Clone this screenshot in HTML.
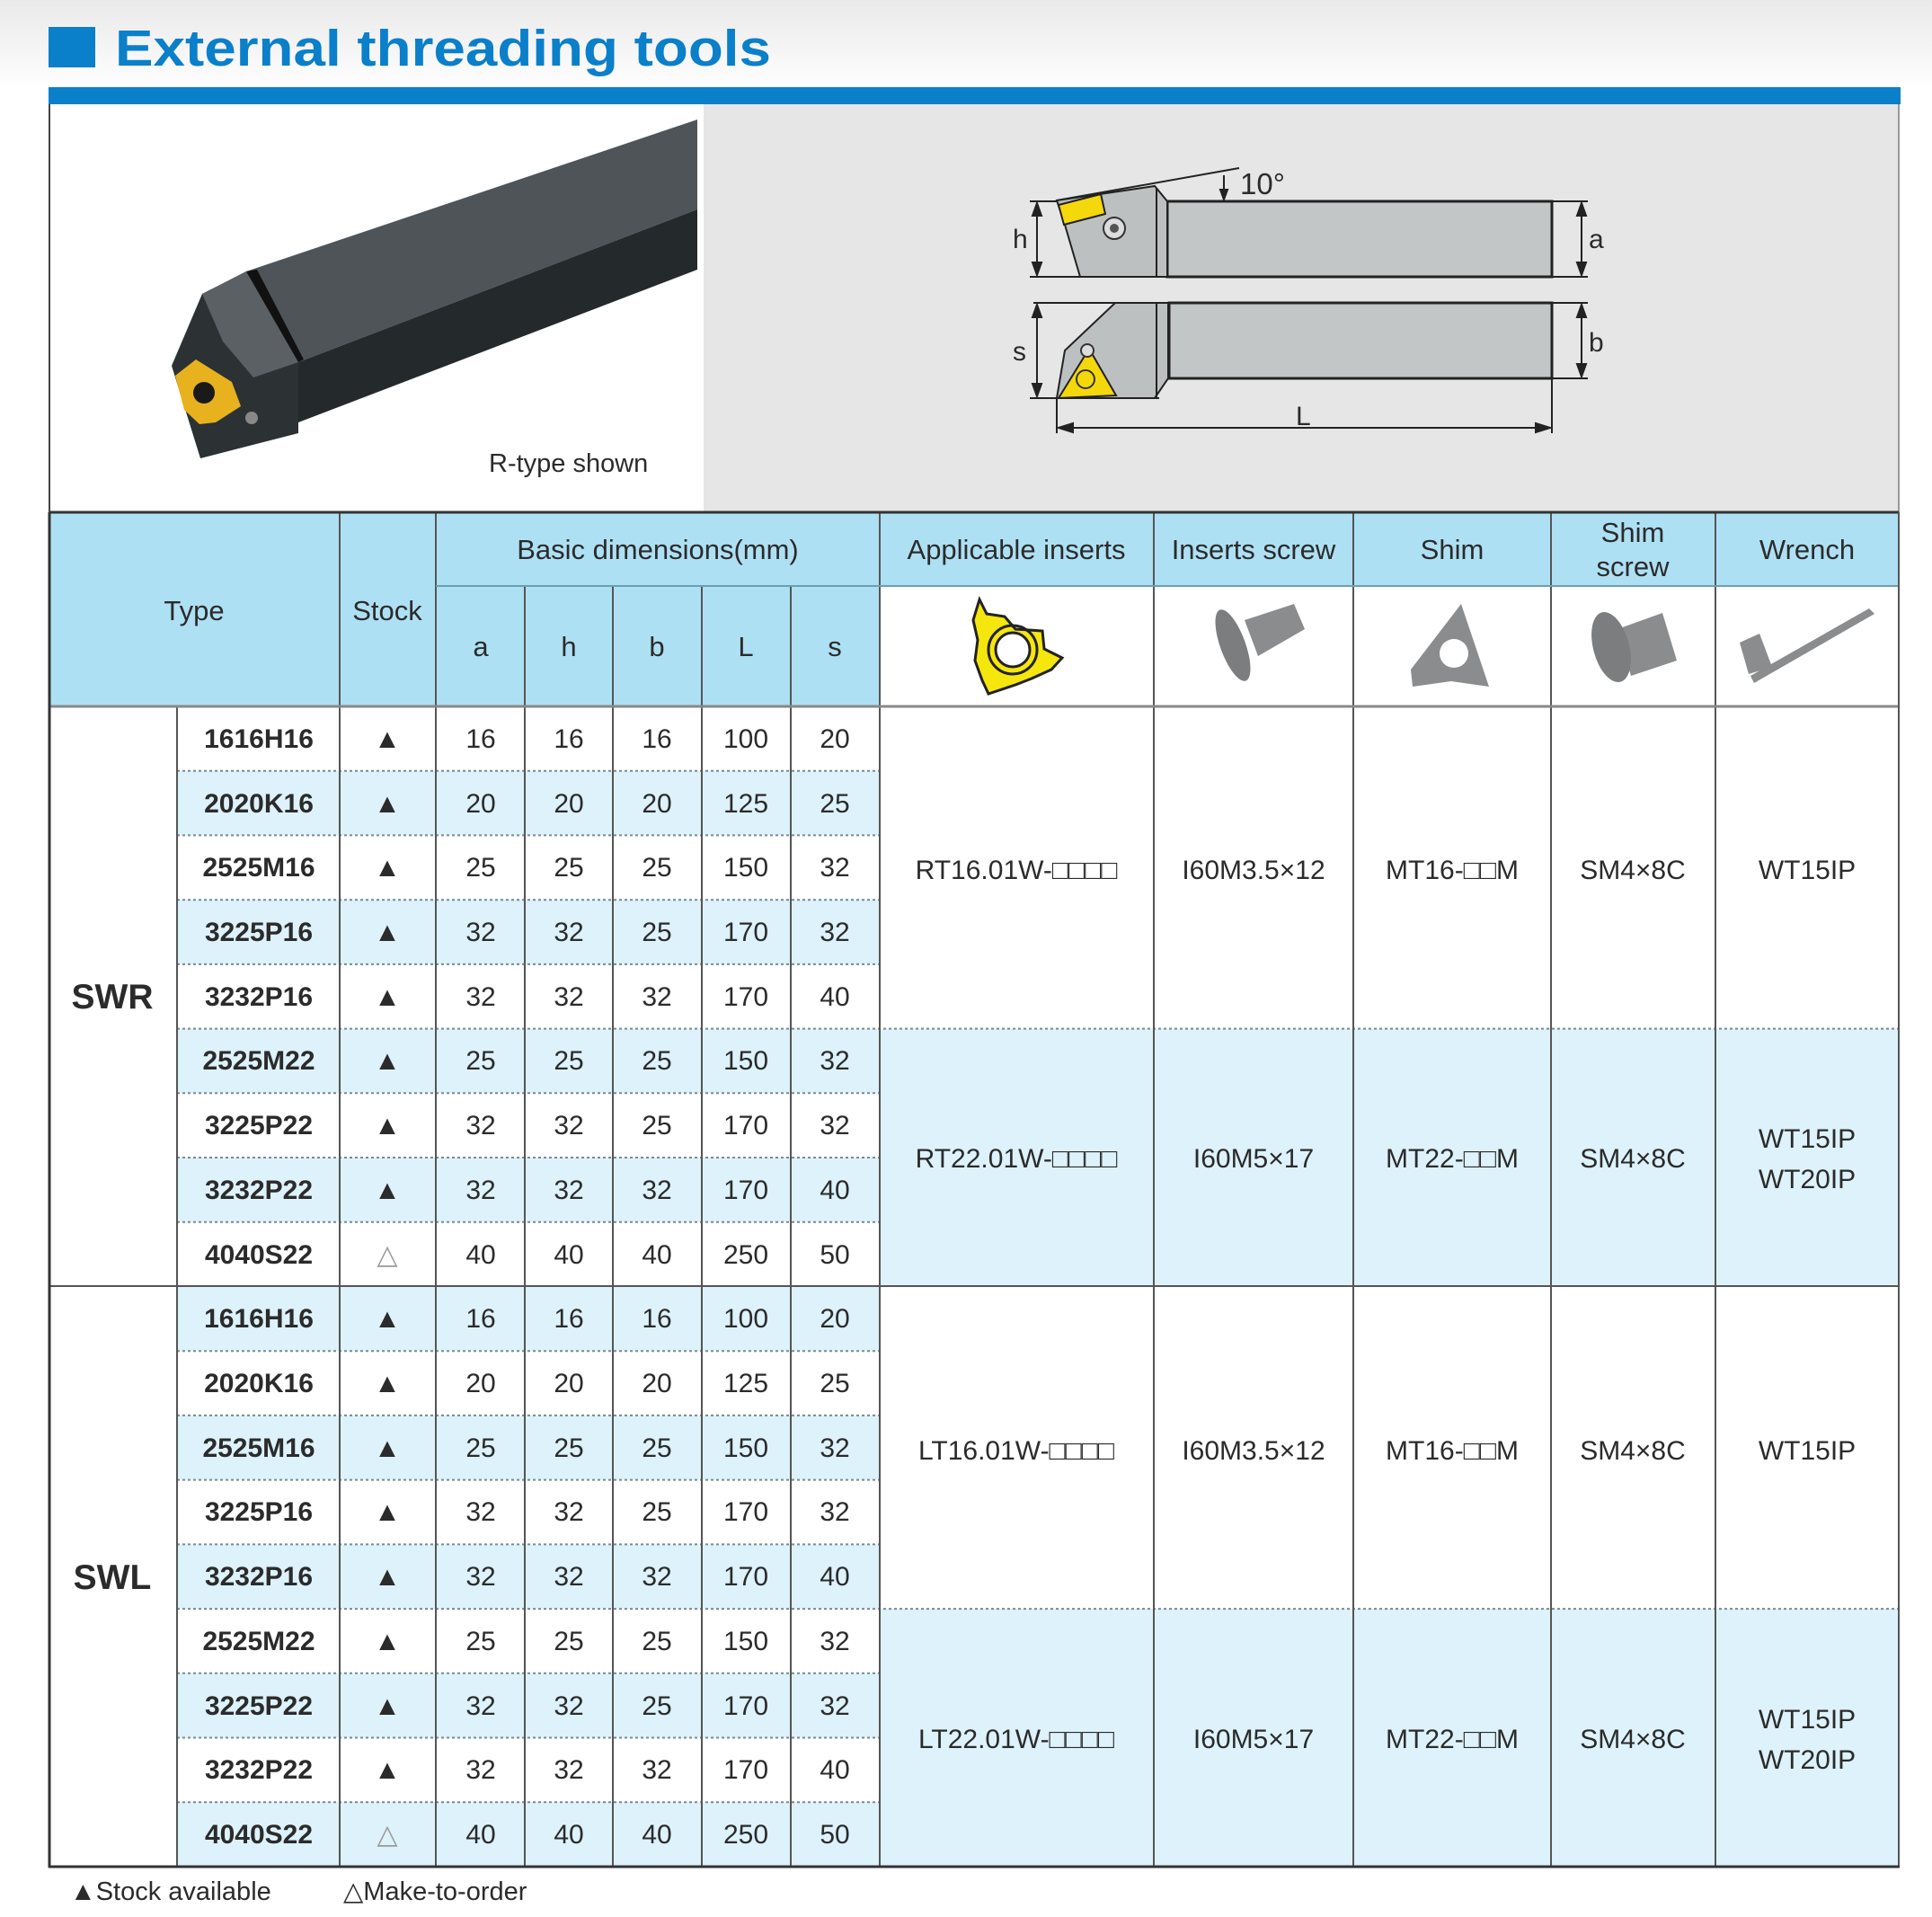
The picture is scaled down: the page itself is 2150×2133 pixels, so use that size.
<!DOCTYPE html>
<html><head><meta charset="utf-8"><style>
html,body{margin:0;padding:0;background:#fff;}
svg{display:block;}
text{font-family:"Liberation Sans",Arial,sans-serif;fill:#2b2b2b;}
.h{font-size:31px;text-anchor:middle;}
.d{font-size:30px;text-anchor:middle;}
.t{font-size:30px;font-weight:bold;text-anchor:middle;}
</style></head><body>
<svg width="2150" height="2133" viewBox="0 0 2150 2133" xmlns="http://www.w3.org/2000/svg">
<defs>
<linearGradient id="bg" x1="0" y1="0" x2="0" y2="1"><stop offset="0" stop-color="#e9e9e9"/><stop offset="1" stop-color="#ffffff"/></linearGradient>
</defs>
<rect x="0" y="0" width="2150" height="100" fill="url(#bg)"/>
<rect x="54" y="30" width="52" height="45" fill="#0a7fca"/>
<text x="128" y="73" font-size="57" font-weight="bold" textLength="730" lengthAdjust="spacingAndGlyphs" style="fill:#0a7fca">External threading tools</text>
<rect x="54" y="97" width="2061" height="19" fill="#0a7fca"/>
<rect x="55" y="116" width="728" height="454" fill="#ffffff"/>
<rect x="783" y="116" width="1330" height="454" fill="#e6e6e6"/>
<line x1="55" y1="116" x2="55" y2="570" stroke="#444" stroke-width="2"/>
<line x1="2113" y1="116" x2="2113" y2="570" stroke="#999" stroke-width="2"/>
<polygon points="274,302 776,133 776,233 332,403" fill="#4e5457"/>
<polygon points="332,403 776,233 776,300 332,470" fill="#24292b"/>
<polygon points="225,327 274,302 332,403 332,482 223,510 191,407" fill="#2c3234"/>
<polygon points="225,327 274,302 332,403 282,420 248,380" fill="#5a6063"/>
<polygon points="274,302 286,300 338,400 332,403" fill="#111"/>
<polygon points="195,418 218,400 258,425 268,452 240,470 222,472 205,456" fill="#e8b21e"/>
<circle cx="227" cy="437" r="12" fill="#1a1a1a"/>
<circle cx="280" cy="465" r="7" fill="#888"/>
<text x="544" y="525" font-size="29">R-type shown</text>
<g stroke="#222" stroke-width="2" fill="none">
<line x1="1146" y1="224" x2="1767" y2="224"/>
<line x1="1146" y1="308" x2="1767" y2="308"/>
<line x1="1176" y1="223" x2="1379" y2="187"/>
<line x1="1150" y1="337" x2="1767" y2="337"/>
<line x1="1727" y1="421" x2="1767" y2="421"/>
<line x1="1146" y1="443" x2="1290" y2="443"/>
<line x1="1176" y1="443" x2="1176" y2="482"/>
<line x1="1727" y1="421" x2="1727" y2="482"/>
</g>
<polygon points="1299,224 1727,224 1727,308 1299,308" fill="#c3c6c6" stroke="#222" stroke-width="3"/>
<polygon points="1176,223 1285,207 1299,224 1299,308 1202,308 1185,250" fill="#bdc0c0" stroke="#222" stroke-width="2"/>
<line x1="1287" y1="210" x2="1287" y2="308" stroke="#222" stroke-width="2"/>
<polygon points="1178,228 1225,216 1230,238 1184,250" fill="#f4d80b" stroke="#222" stroke-width="2"/>
<circle cx="1240" cy="254" r="12" fill="#ddd" stroke="#333" stroke-width="2"/>
<circle cx="1240" cy="254" r="5" fill="#555"/>
<polygon points="1301,337 1727,337 1727,421 1301,421" fill="#c3c6c6" stroke="#222" stroke-width="3"/>
<polygon points="1241,337 1300,337 1300,421 1285,443 1176,443 1185,390" fill="#bdc0c0" stroke="#222" stroke-width="2"/>
<line x1="1287" y1="337" x2="1287" y2="443" stroke="#222" stroke-width="2"/>
<polygon points="1178,443 1212,388 1242,440" fill="#f4d80b" stroke="#222" stroke-width="2"/>
<circle cx="1208" cy="422" r="10" fill="none" stroke="#333" stroke-width="2"/>
<circle cx="1210" cy="390" r="7" fill="#ddd" stroke="#333" stroke-width="2"/>
<g stroke="#222" stroke-width="2" fill="#222">
<line x1="1154" y1="226" x2="1154" y2="306"/><polygon points="1154,226 1149,240 1159,240"/><polygon points="1154,306 1149,292 1159,292"/>
<line x1="1760" y1="226" x2="1760" y2="306"/><polygon points="1760,226 1755,240 1765,240"/><polygon points="1760,306 1755,292 1765,292"/>
<line x1="1154" y1="339" x2="1154" y2="441"/><polygon points="1154,339 1149,353 1159,353"/><polygon points="1154,441 1149,427 1159,427"/>
<line x1="1760" y1="339" x2="1760" y2="419"/><polygon points="1760,339 1755,353 1765,353"/><polygon points="1760,419 1755,405 1765,405"/>
<line x1="1178" y1="476" x2="1725" y2="476"/><polygon points="1178,476 1194,471 1194,481"/><polygon points="1725,476 1709,471 1709,481"/>
<line x1="1362" y1="195" x2="1362" y2="222"/><polygon points="1362,222 1358,211 1366,211"/>
</g>
<text x="1380" y="216" font-size="33">10°</text>
<text x="1127" y="276" font-size="30">h</text>
<text x="1768" y="276" font-size="30">a</text>
<text x="1127" y="401" font-size="30">s</text>
<text x="1768" y="391" font-size="30">b</text>
<text x="1442" y="473" font-size="30">L</text>

<rect x="55" y="571" width="2058" height="215" fill="#aee0f4"/>
<rect x="979" y="652" width="1134" height="134" fill="#ffffff"/>
<g fill="#ddf2fb">
<rect x="197" y="857.7" width="782" height="71.7"/>
<rect x="197" y="1001.2" width="782" height="71.7"/>
<rect x="197" y="1144.6" width="782" height="71.7"/>
<rect x="197" y="1288" width="782" height="71.7"/>
<rect x="197" y="1431.5" width="782" height="71.7"/>
<rect x="197" y="1574.9" width="782" height="71.7"/>
<rect x="197" y="1718.4" width="782" height="71.7"/>
<rect x="197" y="1861.8" width="782" height="71.7"/>
<rect x="197" y="2005.2" width="782" height="71.8"/>
<rect x="979" y="1144.6" width="1134" height="286.9"/>
<rect x="979" y="1790.1" width="1134" height="286.9"/>
</g>
<g stroke="#7a8a90" stroke-width="2" stroke-dasharray="3,3">
<line x1="197" y1="857.7" x2="979" y2="857.7"/>
<line x1="197" y1="929.4" x2="979" y2="929.4"/>
<line x1="197" y1="1001.2" x2="979" y2="1001.2"/>
<line x1="197" y1="1072.9" x2="979" y2="1072.9"/>
<line x1="197" y1="1144.6" x2="2113" y2="1144.6"/>
<line x1="197" y1="1216.3" x2="979" y2="1216.3"/>
<line x1="197" y1="1288" x2="979" y2="1288"/>
<line x1="197" y1="1359.8" x2="979" y2="1359.8"/>
<line x1="197" y1="1503.2" x2="979" y2="1503.2"/>
<line x1="197" y1="1574.9" x2="979" y2="1574.9"/>
<line x1="197" y1="1646.6" x2="979" y2="1646.6"/>
<line x1="197" y1="1718.4" x2="979" y2="1718.4"/>
<line x1="197" y1="1790.1" x2="2113" y2="1790.1"/>
<line x1="197" y1="1861.8" x2="979" y2="1861.8"/>
<line x1="197" y1="1933.5" x2="979" y2="1933.5"/>
<line x1="197" y1="2005.2" x2="979" y2="2005.2"/>
</g>
<g stroke="#555" stroke-width="2">
<line x1="197" y1="786" x2="197" y2="2077"/>
<line x1="378" y1="571" x2="378" y2="2077"/>
<line x1="485" y1="571" x2="485" y2="2077"/>
<line x1="584" y1="652" x2="584" y2="2077"/>
<line x1="682" y1="652" x2="682" y2="2077"/>
<line x1="781" y1="652" x2="781" y2="2077"/>
<line x1="880" y1="652" x2="880" y2="2077"/>
<line x1="979" y1="571" x2="979" y2="2077"/>
<line x1="1284" y1="571" x2="1284" y2="2077"/>
<line x1="1506" y1="571" x2="1506" y2="2077"/>
<line x1="1726" y1="571" x2="1726" y2="2077"/>
<line x1="1909" y1="571" x2="1909" y2="2077"/>
<line x1="485" y1="652" x2="2113" y2="652" stroke="#6a9fb3"/>
<line x1="55" y1="786" x2="2113" y2="786" stroke="#888" stroke-width="3"/>
<line x1="55" y1="1431" x2="2113" y2="1431"/>
</g>
<line x1="55" y1="570" x2="2113" y2="570" stroke="#333" stroke-width="3"/>
<line x1="55" y1="570" x2="55" y2="2078" stroke="#333" stroke-width="3"/>
<line x1="2113" y1="570" x2="2113" y2="2078" stroke="#555" stroke-width="2"/>
<line x1="54" y1="2077" x2="2114" y2="2077" stroke="#333" stroke-width="3"/>

<text class="h" x="216" y="690">Type</text>
<text class="h" x="431" y="690">Stock</text>
<text class="h" x="732" y="622">Basic dimensions(mm)</text>
<text class="h" x="1131" y="622">Applicable inserts</text>
<text class="h" x="1395" y="622">Inserts screw</text>
<text class="h" x="1616" y="622">Shim</text>
<text class="h" x="1817" y="603">Shim</text>
<text class="h" x="1817" y="641">screw</text>
<text class="h" x="2011" y="622">Wrench</text>
<text class="h" x="535" y="730">a</text>
<text class="h" x="633" y="730">h</text>
<text class="h" x="731" y="730">b</text>
<text class="h" x="830" y="730">L</text>
<text class="h" x="929" y="730">s</text>

<path d="M1090,667 L1098,683 L1118,686 L1130,700 L1160,702 L1162,722 L1182,732 L1170,745 L1148,755 L1130,762 L1100,772 L1093,757 L1085,735 L1088,712 L1083,690 Z" fill="#f5e60e" stroke="#222" stroke-width="3"/>
<circle cx="1127" cy="723" r="27" fill="none" stroke="#222" stroke-width="3"/>
<circle cx="1127" cy="723" r="19" fill="#fff" stroke="#222" stroke-width="3"/>
<g fill="#8a8c8d">
<polygon points="1385,690 1440,672 1452,700 1400,730"/>
<ellipse cx="1372" cy="718" rx="14" ry="42" transform="rotate(-20 1372 718)" fill="#7b7d7e"/>
<polygon points="1626,672 1657,764 1615,758 1572,764 1570,745"/>
<circle cx="1618" cy="727" r="16" fill="#fff"/>
<polygon points="1800,700 1850,682 1866,735 1815,752"/>
<ellipse cx="1793" cy="720" rx="20" ry="40" transform="rotate(-15 1793 720)" fill="#7b7d7e"/>
<polygon points="1936,715 1958,705 1972,742 1946,750"/>
<polygon points="1948,752 2080,677 2086,683 1952,760"/>
</g>

<text x="125" y="1122" font-size="39" font-weight="bold" text-anchor="middle">SWR</text>
<text x="125" y="1768" font-size="39" font-weight="bold" text-anchor="middle">SWL</text>

<text class="d" x="1131" y="978">RT16.01W-□□□□</text>
<text class="d" x="1395" y="978">I60M3.5×12</text>
<text class="d" x="1616" y="978">MT16-□□M</text>
<text class="d" x="1817" y="978">SM4×8C</text>
<text class="d" x="2011" y="978">WT15IP</text>
<text class="d" x="1131" y="1299">RT22.01W-□□□□</text>
<text class="d" x="1395" y="1299">I60M5×17</text>
<text class="d" x="1616" y="1299">MT22-□□M</text>
<text class="d" x="1817" y="1299">SM4×8C</text>
<text class="d" x="2011" y="1277">WT15IP</text>
<text class="d" x="2011" y="1322">WT20IP</text>
<text class="d" x="1131" y="1624">LT16.01W-□□□□</text>
<text class="d" x="1395" y="1624">I60M3.5×12</text>
<text class="d" x="1616" y="1624">MT16-□□M</text>
<text class="d" x="1817" y="1624">SM4×8C</text>
<text class="d" x="2011" y="1624">WT15IP</text>
<text class="d" x="1131" y="1945">LT22.01W-□□□□</text>
<text class="d" x="1395" y="1945">I60M5×17</text>
<text class="d" x="1616" y="1945">MT22-□□M</text>
<text class="d" x="1817" y="1945">SM4×8C</text>
<text class="d" x="2011" y="1923">WT15IP</text>
<text class="d" x="2011" y="1968">WT20IP</text>

<g>
<text class="t" x="288" y="832">1616H16</text><text class="d" x="431" y="832">▲</text><text class="d" x="535" y="832">16</text><text class="d" x="633" y="832">16</text><text class="d" x="731" y="832">16</text><text class="d" x="830" y="832">100</text><text class="d" x="929" y="832">20</text>
<text class="t" x="288" y="904">2020K16</text><text class="d" x="431" y="904">▲</text><text class="d" x="535" y="904">20</text><text class="d" x="633" y="904">20</text><text class="d" x="731" y="904">20</text><text class="d" x="830" y="904">125</text><text class="d" x="929" y="904">25</text>
<text class="t" x="288" y="975">2525M16</text><text class="d" x="431" y="975">▲</text><text class="d" x="535" y="975">25</text><text class="d" x="633" y="975">25</text><text class="d" x="731" y="975">25</text><text class="d" x="830" y="975">150</text><text class="d" x="929" y="975">32</text>
<text class="t" x="288" y="1047">3225P16</text><text class="d" x="431" y="1047">▲</text><text class="d" x="535" y="1047">32</text><text class="d" x="633" y="1047">32</text><text class="d" x="731" y="1047">25</text><text class="d" x="830" y="1047">170</text><text class="d" x="929" y="1047">32</text>
<text class="t" x="288" y="1119">3232P16</text><text class="d" x="431" y="1119">▲</text><text class="d" x="535" y="1119">32</text><text class="d" x="633" y="1119">32</text><text class="d" x="731" y="1119">32</text><text class="d" x="830" y="1119">170</text><text class="d" x="929" y="1119">40</text>
<text class="t" x="288" y="1190">2525M22</text><text class="d" x="431" y="1190">▲</text><text class="d" x="535" y="1190">25</text><text class="d" x="633" y="1190">25</text><text class="d" x="731" y="1190">25</text><text class="d" x="830" y="1190">150</text><text class="d" x="929" y="1190">32</text>
<text class="t" x="288" y="1262">3225P22</text><text class="d" x="431" y="1262">▲</text><text class="d" x="535" y="1262">32</text><text class="d" x="633" y="1262">32</text><text class="d" x="731" y="1262">25</text><text class="d" x="830" y="1262">170</text><text class="d" x="929" y="1262">32</text>
<text class="t" x="288" y="1334">3232P22</text><text class="d" x="431" y="1334">▲</text><text class="d" x="535" y="1334">32</text><text class="d" x="633" y="1334">32</text><text class="d" x="731" y="1334">32</text><text class="d" x="830" y="1334">170</text><text class="d" x="929" y="1334">40</text>
<text class="t" x="288" y="1406">4040S22</text><text class="d" x="431" y="1406" style="fill:#999">△</text><text class="d" x="535" y="1406">40</text><text class="d" x="633" y="1406">40</text><text class="d" x="731" y="1406">40</text><text class="d" x="830" y="1406">250</text><text class="d" x="929" y="1406">50</text>

<text class="t" x="288" y="1477">1616H16</text><text class="d" x="431" y="1477">▲</text><text class="d" x="535" y="1477">16</text><text class="d" x="633" y="1477">16</text><text class="d" x="731" y="1477">16</text><text class="d" x="830" y="1477">100</text><text class="d" x="929" y="1477">20</text>
<text class="t" x="288" y="1549">2020K16</text><text class="d" x="431" y="1549">▲</text><text class="d" x="535" y="1549">20</text><text class="d" x="633" y="1549">20</text><text class="d" x="731" y="1549">20</text><text class="d" x="830" y="1549">125</text><text class="d" x="929" y="1549">25</text>
<text class="t" x="288" y="1621">2525M16</text><text class="d" x="431" y="1621">▲</text><text class="d" x="535" y="1621">25</text><text class="d" x="633" y="1621">25</text><text class="d" x="731" y="1621">25</text><text class="d" x="830" y="1621">150</text><text class="d" x="929" y="1621">32</text>
<text class="t" x="288" y="1692">3225P16</text><text class="d" x="431" y="1692">▲</text><text class="d" x="535" y="1692">32</text><text class="d" x="633" y="1692">32</text><text class="d" x="731" y="1692">25</text><text class="d" x="830" y="1692">170</text><text class="d" x="929" y="1692">32</text>
<text class="t" x="288" y="1764">3232P16</text><text class="d" x="431" y="1764">▲</text><text class="d" x="535" y="1764">32</text><text class="d" x="633" y="1764">32</text><text class="d" x="731" y="1764">32</text><text class="d" x="830" y="1764">170</text><text class="d" x="929" y="1764">40</text>
<text class="t" x="288" y="1836">2525M22</text><text class="d" x="431" y="1836">▲</text><text class="d" x="535" y="1836">25</text><text class="d" x="633" y="1836">25</text><text class="d" x="731" y="1836">25</text><text class="d" x="830" y="1836">150</text><text class="d" x="929" y="1836">32</text>
<text class="t" x="288" y="1908">3225P22</text><text class="d" x="431" y="1908">▲</text><text class="d" x="535" y="1908">32</text><text class="d" x="633" y="1908">32</text><text class="d" x="731" y="1908">25</text><text class="d" x="830" y="1908">170</text><text class="d" x="929" y="1908">32</text>
<text class="t" x="288" y="1979">3232P22</text><text class="d" x="431" y="1979">▲</text><text class="d" x="535" y="1979">32</text><text class="d" x="633" y="1979">32</text><text class="d" x="731" y="1979">32</text><text class="d" x="830" y="1979">170</text><text class="d" x="929" y="1979">40</text>
<text class="t" x="288" y="2051">4040S22</text><text class="d" x="431" y="2051" style="fill:#999">△</text><text class="d" x="535" y="2051">40</text><text class="d" x="633" y="2051">40</text><text class="d" x="731" y="2051">40</text><text class="d" x="830" y="2051">250</text><text class="d" x="929" y="2051">50</text>
</g>

<text x="78" y="2114" font-size="29">▲Stock available</text>
<text x="382" y="2114" font-size="29">△Make-to-order</text>
</svg>
</body></html>
